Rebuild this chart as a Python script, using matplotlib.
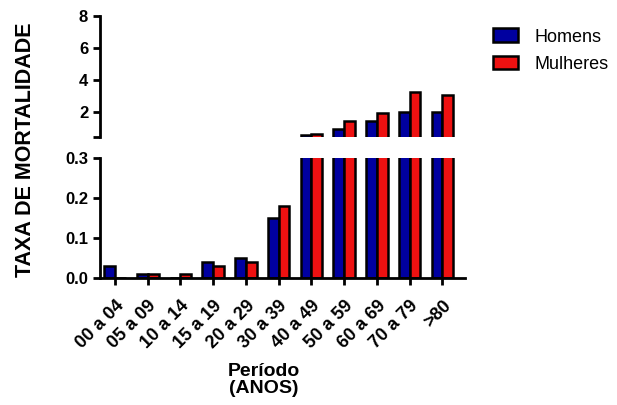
import matplotlib
matplotlib.use('Agg')
import matplotlib.pyplot as plt
import numpy as np

plt.rcParams['font.family'] = ['Liberation Sans', 'DejaVu Sans']

periodos = ['00 a 04', '05 a 09', '10 a 14', '15 a 19', '20 a 29', '30 a 39',
            '40 a 49', '50 a 59', '60 a 69', '70 a 79', '>80']
homens = [0.03, 0.01, 0.0, 0.04, 0.05, 0.15, 0.58, 0.95, 1.45, 2.0, 2.0]
mulheres = [0.0, 0.01, 0.01, 0.03, 0.04, 0.18, 0.62, 1.45, 1.95, 3.25, 3.1]

azul = '#0000a0'
verm = '#ee1111'
lw = 2

fig = plt.figure(figsize=(6.17, 4.05), dpi=100)
axTop = fig.add_axes([0.162, 0.662, 0.592, 0.298])
axBot = fig.add_axes([0.162, 0.314, 0.592, 0.296])

x = np.arange(len(periodos))
w = 0.33
for ax in (axTop, axBot):
    ax.bar(x - w/2, homens, w, color=azul, edgecolor='black', linewidth=1.8, label='Homens')
    ax.bar(x + w/2, mulheres, w, color=verm, edgecolor='black', linewidth=1.8, label='Mulheres')
    ax.set_xlim(-0.46, 10.7)
    for s in ['top', 'right']:
        ax.spines[s].set_visible(False)
    ax.spines['left'].set_linewidth(lw)
    ax.spines['bottom'].set_linewidth(lw)
    ax.tick_params(width=lw, length=5, direction='out', labelsize=12)

axBot.set_ylim(0, 0.3)
axBot.set_yticks([0.0, 0.1, 0.2, 0.3])
axBot.set_yticklabels(['0.0', '0.1', '0.2', '0.3'], fontweight='bold', fontsize=12)
axBot.set_xticks(x)
axBot.set_xticklabels(periodos, rotation=45, ha='right', rotation_mode='anchor',
                      fontweight='bold', fontsize=13)
axBot.tick_params(axis='x', pad=9)

axTop.set_ylim(0.45, 8)
axTop.set_yticks([0.45, 2, 4, 6, 8])
axTop.set_yticklabels(['', '2', '4', '6', '8'], fontweight='bold', fontsize=12)
axTop.spines['bottom'].set_visible(False)
axTop.set_xticks([])

fig.text(0.428, 0.062, 'Período\n(ANOS)', ha='center', va='center',
         fontweight='bold', fontsize=14, linespacing=1.05)
fig.text(0.042, 0.63, 'TAXA DE MORTALIDADE', rotation=90, ha='center', va='center',
         fontweight='bold', fontsize=15.5)

h, l = axBot.get_legend_handles_labels()
fig.legend(h, l, loc='upper left', bbox_to_anchor=(0.772, 0.97), frameon=False,
           fontsize=13, handlelength=1.4, handleheight=0.8, handletextpad=0.9,
           labelspacing=0.55)

fig.savefig('out.png', dpi=100)
